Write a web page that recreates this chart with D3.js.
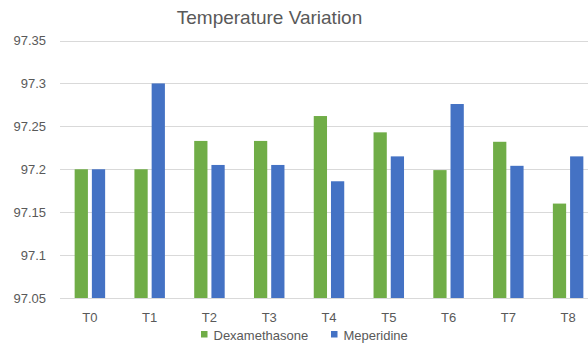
<!DOCTYPE html>
<html>
<head>
<meta charset="utf-8">
<script src="https://cdn.jsdelivr.net/npm/d3@7"></script>
<style>
  html, body { margin: 0; padding: 0; background: #fff; }
  svg { display: block; }
  text { font-family: "Liberation Sans", Arial, sans-serif; fill: #595959; }
</style>
</head>
<body>
<script>
// Chart data
const categories = ["T0", "T1", "T2", "T3", "T4", "T5", "T6", "T7", "T8"];
const seriesNames = ["Dexamethasone", "Meperidine"];
const dexamethasone = [97.2, 97.2, 97.233, 97.233, 97.262, 97.243, 97.199, 97.232, 97.16];
const meperidine = [97.2, 97.3, 97.205, 97.205, 97.186, 97.215, 97.276, 97.204, 97.215];
const yTicks = [97.05, 97.1, 97.15, 97.2, 97.25, 97.3, 97.35];
const colors = ["#70AD47", "#4472C4"];

const W = 588, H = 346;
const svg = d3.select("body").append("svg").attr("width", W).attr("height", H);

const x = d3.scaleBand().domain(categories).range([60, 598]).paddingInner(0).paddingOuter(0);
const bw = x.bandwidth();
const x1 = d3.scaleBand().domain(seriesNames).range([bw * 0.245, bw * 0.755]).paddingInner(0.23);
const y = d3.scaleLinear().domain([97.05, 97.35]).range([298, 40.5]);

// Horizontal gridlines
svg.append("g").selectAll("line").data(yTicks).join("line")
  .attr("x1", 60).attr("x2", W)
  .attr("y1", d => Math.round(y(d)) + 0.5).attr("y2", d => Math.round(y(d)) + 0.5)
  .attr("stroke", "#D9D9D9").attr("stroke-width", 1);

// Y axis labels
const yAxis = d3.axisLeft(y).tickValues(yTicks).tickSize(0).tickPadding(0)
  .tickFormat(d => d3.format("~g")(+d.toFixed(2)));
svg.append("g").attr("transform", "translate(46,0)").call(yAxis)
  .call(g => g.select(".domain").remove())
  .call(g => g.selectAll("text").attr("font-size", 13).attr("fill", "#595959")
    .attr("font-family", "Liberation Sans, Arial, sans-serif"));

// Bars
const rows = categories.map((c, i) => ({ cat: c, vals: [dexamethasone[i], meperidine[i]] }));
const groups = svg.append("g").selectAll("g").data(rows).join("g")
  .attr("transform", d => `translate(${x(d.cat)},0)`);
groups.selectAll("rect").data(d => d.vals.map((v, k) => ({ name: seriesNames[k], v, k }))).join("rect")
  .attr("x", d => x1(d.name))
  .attr("width", x1.bandwidth())
  .attr("y", d => y(d.v))
  .attr("height", d => y(97.05) - y(d.v))
  .attr("fill", d => colors[d.k]);

// X axis labels
const xAxis = d3.axisBottom(x).tickSize(0).tickPadding(0);
svg.append("g").attr("transform", "translate(0,313)").call(xAxis)
  .call(g => g.select(".domain").remove())
  .call(g => g.selectAll("text").attr("font-size", 13).attr("fill", "#595959")
    .attr("font-family", "Liberation Sans, Arial, sans-serif"));

// Title
svg.append("text").attr("x", 269.5).attr("y", 24).attr("text-anchor", "middle")
  .attr("font-size", 19).text("Temperature Variation");

// Legend
const legend = svg.append("g");
const legendX = [201, 331];
seriesNames.forEach((n, k) => {
  legend.append("rect").attr("x", legendX[k]).attr("y", 331).attr("width", 6.5).attr("height", 6.5)
    .attr("fill", colors[k]);
  legend.append("text").attr("x", legendX[k] + 12.5).attr("y", 339.5).attr("font-size", 13).text(n);
});
</script>
</body>
</html>
